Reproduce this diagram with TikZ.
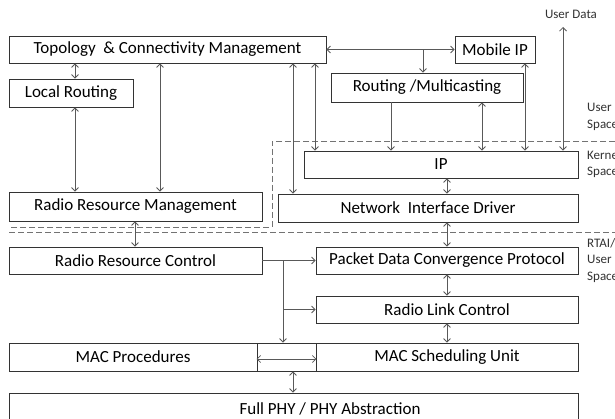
\documentclass[tikz,border=0pt]{standalone}
\usepackage{fontspec}
\setmainfont{Carlito}
\usetikzlibrary{arrows.meta}
\begin{document}
\begin{tikzpicture}[x=1pt,y=-1pt,
  box/.style={draw=black!80, line width=0.8pt, rectangle, inner sep=0pt, font=\fontsize{17}{20}\selectfont},
  lnk/.style={draw=black!65, line width=0.8pt, >={Straight Barb[length=3.5pt,width=7pt]}},
  side/.style={inner sep=0pt, anchor=north west, align=left, font=\fontsize{13}{16.5}\selectfont, text=black!80},
  sep/.style={draw=black!55, line width=0.9pt, dash pattern=on 6pt off 3pt}
]
\useasboundingbox (0,0) rectangle (615,419);
\clip (0,0) rectangle (615,419);
\fill[white] (0,0) rectangle (615,419);

% boxes
\node[box, minimum width=317pt, minimum height=27pt] (tcm) at (167.5,49.5) {Topology \ \& Connectivity Management};
\node[box, minimum width=124pt, minimum height=28pt] (lr) at (71,93) {Local Routing};
\node[box, minimum width=80pt, minimum height=27pt] (mip) at (495,49.5) {Mobile IP};
\node[box, minimum width=192pt, minimum height=29pt] (rm) at (427,87.5) {Routing /Multicasting};
\node[box, minimum width=274pt, minimum height=27pt] (ip) at (441,164.5) {IP};
\node[box, minimum width=253pt, minimum height=29pt] (rrm) at (135.5,206.5) {Radio Resource Management};
\node[box, minimum width=300pt, minimum height=28pt] (nid) at (428,208) {Network \ Interface Driver};
\node[box, minimum width=253pt, minimum height=27pt] (rrc) at (135.5,260.5) {Radio Resource Control};
\node[box, minimum width=262pt, minimum height=27pt] (pdcp) at (447,260.5) {Packet Data Convergence Protocol};
\node[box, minimum width=262pt, minimum height=27pt] (rlc) at (447,309.5) {Radio Link Control};
\node[box, minimum width=248pt, minimum height=28pt] (macp) at (133,357) {MAC Procedures};
\node[box, minimum width=59pt, minimum height=28pt] (mid) at (286.5,357) {};
\node[box, minimum width=262pt, minimum height=28pt] (macs) at (447,357) {MAC Scheduling Unit};
\node[box, minimum width=569pt, minimum height=50pt] (phy) at (293.5,418) {};
\node[inner sep=0pt, font=\fontsize{17}{20}\selectfont] (phyt) at (330,409) {Full PHY / PHY Abstraction};

% side labels
\node[inner sep=0pt, font=\fontsize{13}{16}\selectfont, text=black!80] (ud) at (571,14) {User Data};
\node[side] (us) at (587,103) {User\\Space};
\node[side] (ks) at (587,150) {Kernel\\Space};
\node[side] (rs) at (587,238) {RTAI/\\User\\Space};

% column / row helpers
\coordinate (c75) at (75,0);
\coordinate (c135) at (135,0);
\coordinate (c160) at (160,0);
\coordinate (c283) at (283,0);
\coordinate (c293) at (293,0);
\coordinate (c315) at (315,0);
\coordinate (c391) at (391,0);
\coordinate (c423) at (423,0);
\coordinate (c447) at (447,0);
\coordinate (c482) at (482,0);
\coordinate (c525) at (525,0);
\coordinate (c563) at (563,0);
\coordinate (udtop) at (563,27);

% separators
\draw[sep] (615,141) -- (272,141) -- (272,227) -- (9,227);
\draw[sep] (9,232) -- (615,232);

% connectors
\draw[lnk,<->] (tcm.south -| c75) -- (lr.north -| c75);
\draw[lnk,<->] (lr.south -| c75) -- (rrm.north -| c75);
\draw[lnk,<->] (tcm.south -| c160) -- (rrm.north -| c160);
\draw[lnk,<->] (tcm.south -| c293) -- (nid.north -| c293);
\draw[lnk,<->] (tcm.south -| c315) -- (ip.north -| c315);
\draw[lnk,<->] (tcm.east) -- (mip.west);
\draw[lnk,->] (tcm.east -| c423) -- (rm.north -| c423);
\draw[lnk,->] (rm.south -| c391) -- (ip.north -| c391);
\draw[lnk,<->] (rm.south -| c482) -- (ip.north -| c482);
\draw[lnk,<->] (mip.south -| c525) -- (ip.north -| c525);
\draw[lnk,<->] (udtop) -- (ip.north -| c563);
\draw[lnk,<->] (ip.south -| c447) -- (nid.north -| c447);
\draw[lnk,<->] (nid.south -| c447) -- (pdcp.north -| c447);
\draw[lnk,<->] (pdcp.south -| c447) -- (rlc.north -| c447);
\draw[lnk,<->] (rlc.south -| c447) -- (macs.north -| c447);
\draw[lnk,<->] (rrm.south -| c135) -- (rrc.north -| c135);
\draw[lnk,->] (rrc.east) -- (pdcp.west);
\draw[lnk,->] (rrc.east -| c283) -- (mid.north -| c283);
\draw[lnk,->] (rlc.west -| c283) -- (rlc.west);
\draw[lnk,<->] ([yshift=-2pt]mid.west) -- ([yshift=-2pt]mid.east);
\draw[lnk,<->] (mid.south -| c293) -- (phy.north -| c293);
\end{tikzpicture}
\end{document}
